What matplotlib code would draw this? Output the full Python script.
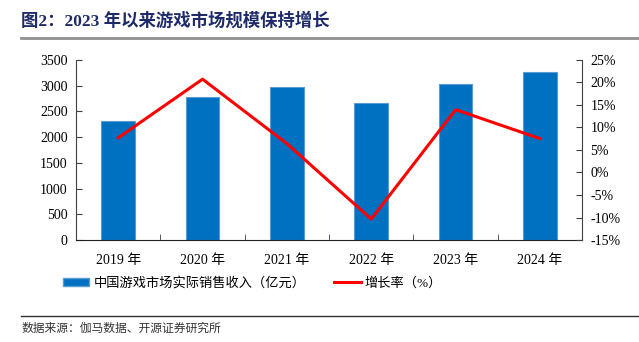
import numpy as np
import matplotlib.pyplot as plt
from matplotlib.lines import Line2D
from matplotlib.patches import Patch

plt.rcParams['font.family'] = ['Liberation Serif', 'Noto Sans CJK SC', 'DejaVu Sans']

years = ['2019 年', '2020 年', '2021 年', '2022 年', '2023 年', '2024 年']
revenue = [2308.8, 2786.87, 2965.13, 2658.84, 3029.64, 3257.83]   # 亿元
growth = [7.7, 20.71, 6.4, -10.33, 13.95, 7.53]                   # %

fig = plt.figure(figsize=(6.39, 3.42), dpi=100)
ax = fig.add_axes([0.119, 0.298, 0.792, 0.527])
x = np.arange(len(years))

ax.bar(x, revenue, width=0.4, color='#0070C0', edgecolor='#5B9BD5', linewidth=0.8, zorder=2)
ax.set_xlim(-0.5, len(years) - 0.5)
ax.set_ylim(0, 3500)
ax.set_yticks(np.arange(0, 3501, 500))
ax.set_xticks(x)
ax.set_xticklabels(years, fontsize=10)
ax.set_xticks(np.arange(-0.5, len(years)), minor=True)
ax.tick_params(axis='x', which='major', length=0, pad=10)
ax.tick_params(axis='x', which='minor', direction='in', length=4, color='#404040')
ax.tick_params(axis='y', direction='in', length=4, labelsize=10, color='#404040', pad=6)
ax.spines['top'].set_visible(False)
ax.spines['right'].set_visible(False)
ax.spines['left'].set_color('#404040')
ax.spines['bottom'].set_color('#202020')

ax2 = ax.twinx()
ax2.plot(x, growth, color='#FF0000', linewidth=2.2, zorder=3)
ax2.set_ylim(-15, 25)
ax2.set_yticks(np.arange(-15, 26, 5))
ax2.set_yticklabels([f'{v}%' for v in range(-15, 26, 5)])
ax2.tick_params(axis='y', direction='in', length=4, labelsize=10, color='#404040', pad=6)
ax2.spines['top'].set_visible(False)
ax2.spines['left'].set_visible(False)
ax2.spines['bottom'].set_visible(False)
ax2.spines['right'].set_color('#404040')

handles = [Patch(facecolor='#0070C0', edgecolor='#5B9BD5'),
           Line2D([0], [0], color='#FF0000', linewidth=2.2)]
fig.legend(handles, ['中国游戏市场实际销售收入（亿元）', '增长率（%）'],
           loc='center left', bbox_to_anchor=(0.08, 0.172), ncol=2, frameon=False,
           fontsize=9.5, handlelength=2.0, handleheight=0.6, handletextpad=0.3,
           columnspacing=2.2)

fig.text(0.033, 0.94, '图2：2023 年以来游戏市场规模保持增长', fontsize=12.5,
         fontweight='bold', color='#1F2A6B', va='center', ha='left')
fig.add_artist(Line2D([0.033, 1.0], [0.888, 0.888], color='#909090', linewidth=2))
fig.add_artist(Line2D([0.033, 1.0], [0.076, 0.076], color='#303030', linewidth=1))
fig.text(0.033, 0.04, '数据来源：伽马数据、开源证券研究所', fontsize=8.5, color='#333333',
         va='center', ha='left')

fig.savefig('out.png', dpi=100)
